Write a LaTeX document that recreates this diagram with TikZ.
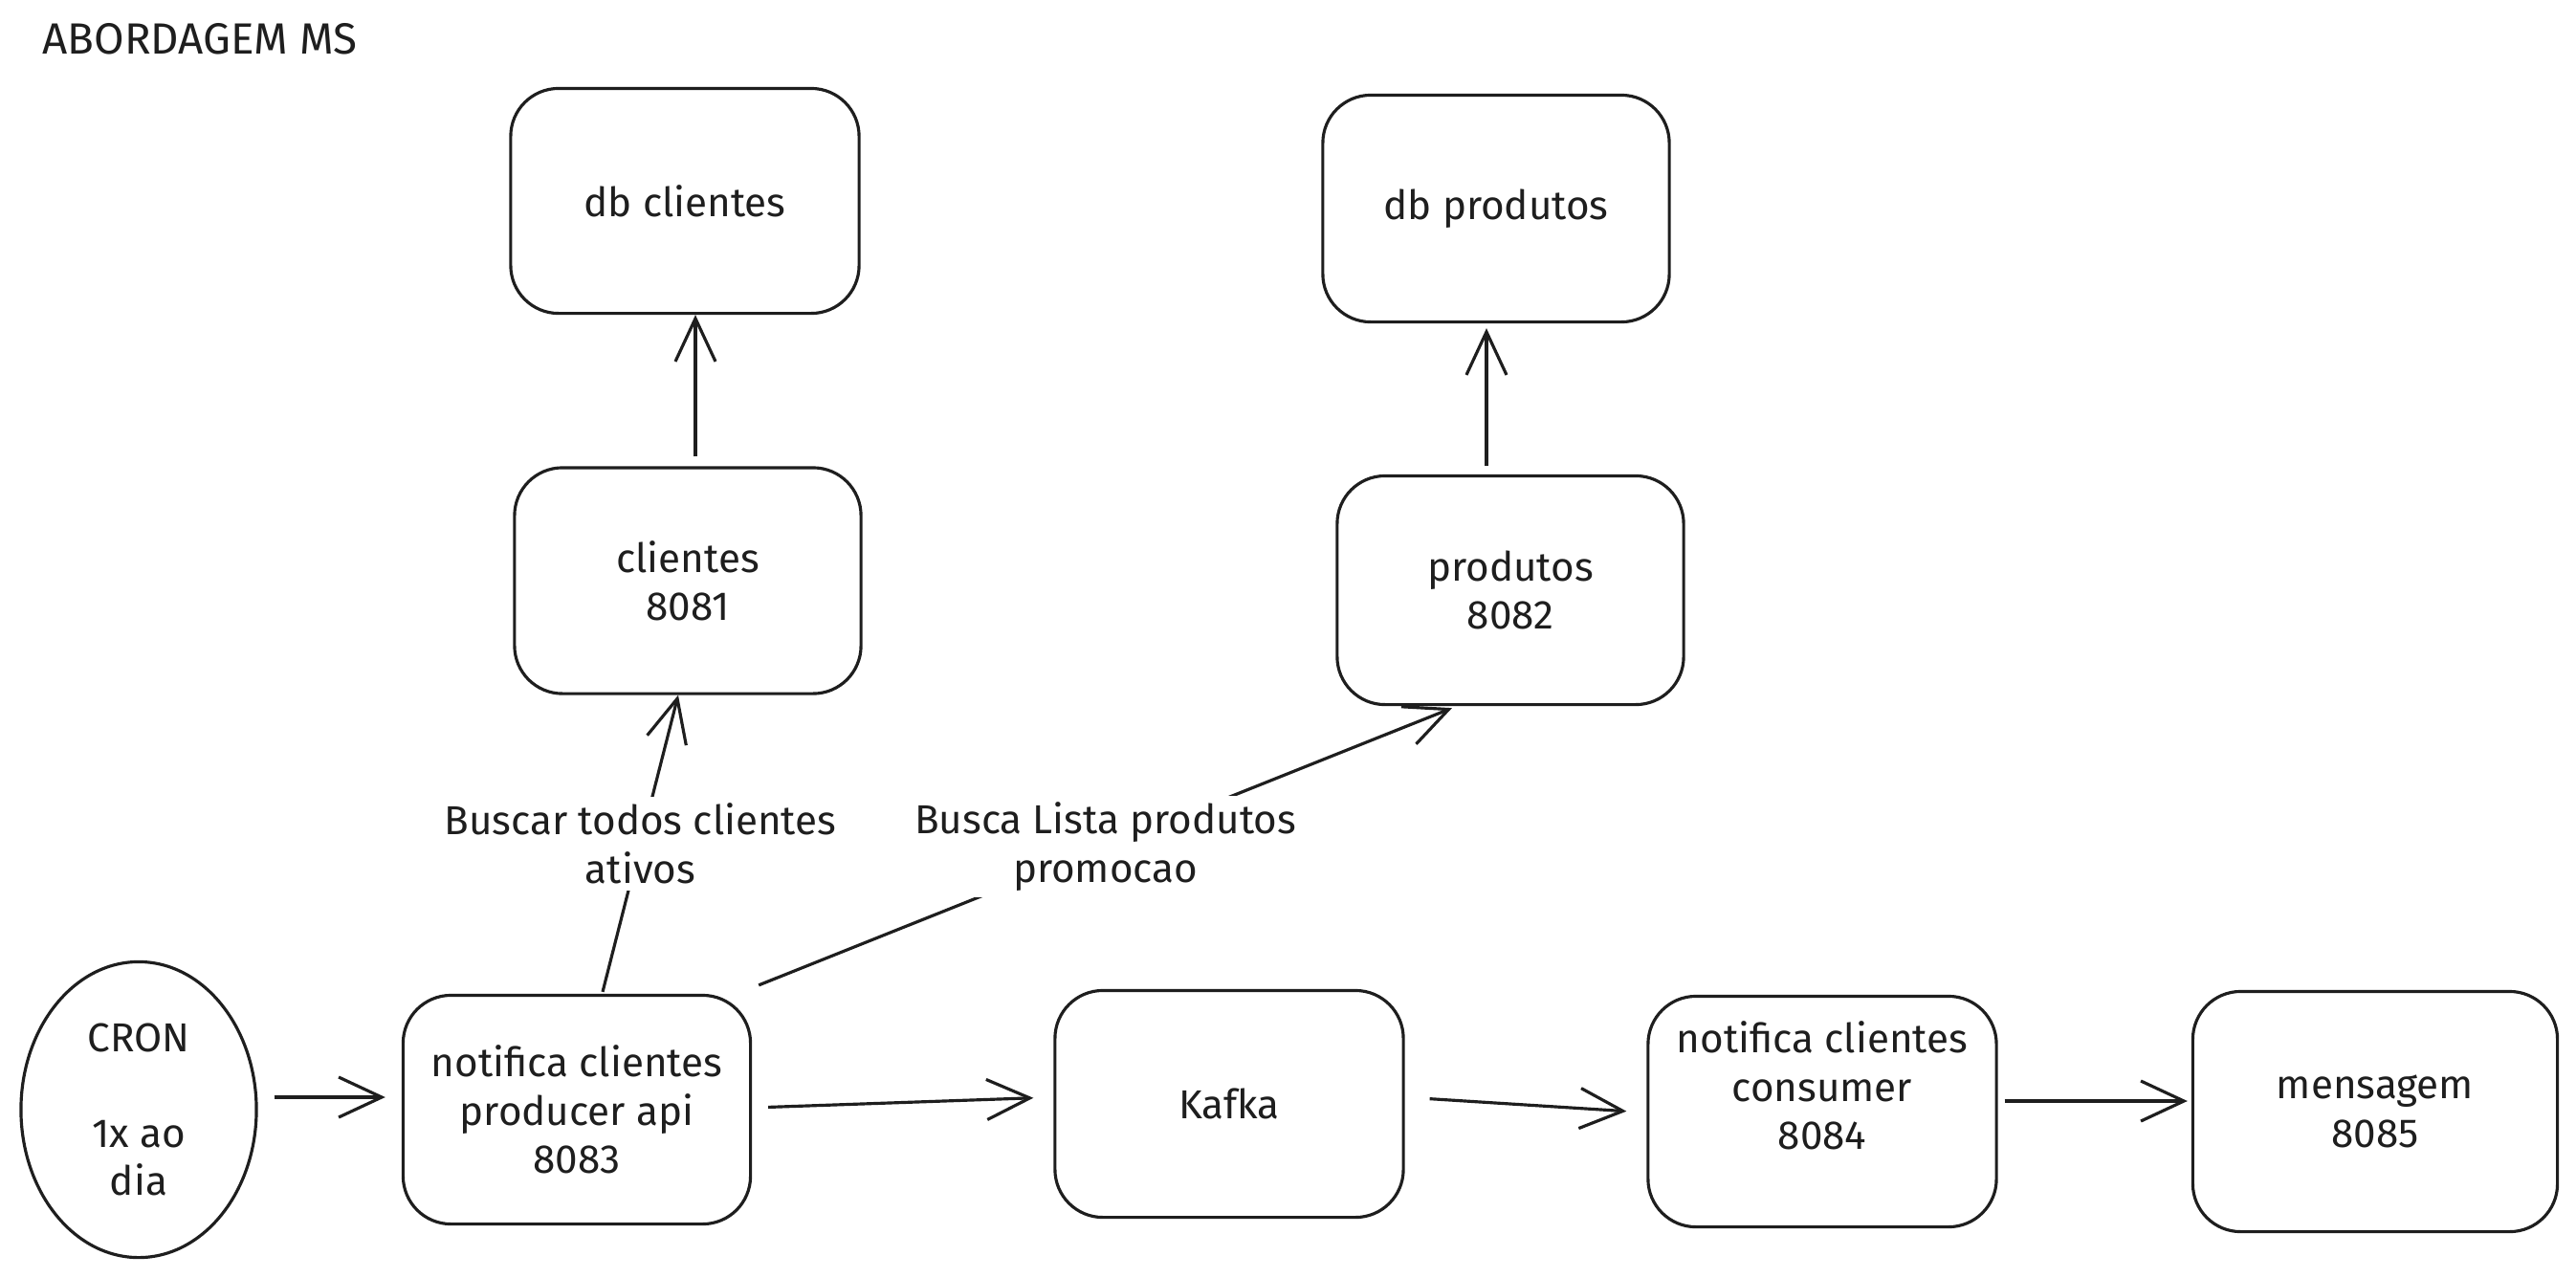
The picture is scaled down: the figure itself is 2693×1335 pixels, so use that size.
\documentclass[tikz,border=0pt]{standalone}
\usepackage{fontspec}
\setmainfont{Fira Sans}
\usetikzlibrary{arrows.meta,shapes.geometric}
\definecolor{ink}{HTML}{1E1E1E}
\begin{document}
\begin{tikzpicture}[x=0.01cm,y=-0.01cm,
  txt/.style={font=\fontsize{12}{14.3}\selectfont, text=ink, align=center},
  box/.style={txt, draw=ink, line width=0.9pt, rounded corners=0.5cm, inner sep=0pt},
  arr/.style={draw=ink, line width=0.9pt, -{Straight Barb[length=0.45cm,width=0.42cm,line width=0.9pt]}},
  lbl/.style={txt, fill=white, inner sep=2pt}
]
\useasboundingbox (0,0) rectangle (2693,1335);
\fill[white] (0,0) rectangle (2693,1335);

\node[txt, font=\fontsize{13}{15}\selectfont, anchor=west] (title) at (32,41) {ABORDAGEM MS};

\node[box, minimum width=3.64cm, minimum height=2.35cm] (dbcli) at (716,210) {db clientes};
\node[box, minimum width=3.62cm, minimum height=2.37cm] (dbprod) at (1564,218) {db produtos};
\node[box, minimum width=3.62cm, minimum height=2.36cm] (cli) at (719,607) {clientes\\8081};
\node[box, minimum width=3.62cm, minimum height=2.39cm] (prod) at (1579,617) {produtos\\8082};

\node[txt, draw=ink, line width=0.9pt, ellipse, inner sep=0pt, minimum width=2.46cm, minimum height=3.09cm] (cron) at (145,1160) {CRON\\[14.3pt]1x ao\\dia};
\node[box, minimum width=3.63cm, minimum height=2.39cm] (api) at (603,1160) {notifica clientes\\producer api\\8083};
\node[box, minimum width=3.64cm, minimum height=2.37cm] (kafka) at (1285,1154) {Kafka};
\node[box, minimum width=3.64cm, minimum height=2.41cm] (cons) at (1905,1162) {};
\node[txt] (constext) at (1905,1135) {notifica clientes\\consumer\\8084};
\node[box, minimum width=3.81cm, minimum height=2.51cm] (msg) at (2483,1162) {mensagem\\8085};

% horizontal flow
\draw[arr, shorten <=0.17cm, shorten >=0.17cm] ([yshift=0.13cm]cron.east) -- ([yshift=0.13cm]api.west);
\draw[arr, shorten <=0.17cm, shorten >=0.21cm] ([yshift=0.02cm]api.east) -- ([yshift=0.07cm]kafka.west);
\draw[arr, shorten <=0.26cm, shorten >=0.21cm] ([yshift=0.07cm]kafka.east) -- ([yshift=-0.01cm]cons.west);
\draw[arr, shorten <=0.07cm, shorten >=0.04cm] ([yshift=0.11cm]cons.east) -- ([yshift=0.11cm]msg.west);

% upward calls
\draw[arr] ([xshift=0.27cm,yshift=0.02cm]api.north) -- node[lbl] {Buscar todos clientes\\ativos} ([xshift=-0.1cm]cli.south);
\draw[arr] ([xshift=0.07cm,yshift=0.09cm]api.north east) -- node[lbl] {Busca Lista produtos\\promocao} ([xshift=-0.61cm,yshift=-0.02cm]prod.south);
\draw[arr, shorten <=0.1cm] ([xshift=0.08cm]cli.north) -- ([xshift=0.08cm]cli.north |- dbcli.south);
\draw[arr, shorten <=0.09cm] ([xshift=-0.25cm]prod.north) -- ([xshift=-0.25cm,yshift=-0.05cm]prod.north |- dbprod.south);
\end{tikzpicture}
\end{document}
